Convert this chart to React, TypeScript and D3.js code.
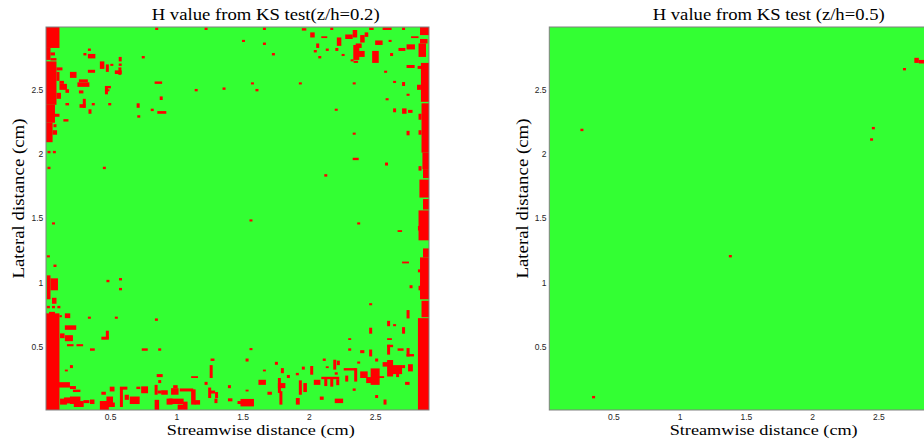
import React from 'react';
import * as d3 from 'd3';

// ---------- data ----------
const X_TICKS = [0.5, 1, 1.5, 2, 2.5];
const Y_TICKS = [0.5, 1, 1.5, 2, 2.5];
const X_EXTENT: [number, number] = [0.013, 2.903];
const Y_EXTENT: [number, number] = [0.01, 2.988];
const GRID_CELLS = 128;
const TITLES = ['H value from KS test(z/h=0.2)', 'H value from KS test (z/h=0.5)'];
const X_LABEL = 'Streamwise distance (cm)';
const Y_LABEL = 'Lateral distance (cm)';

// red (H = 1) patches on the measurement grid: [col, row, cols, rows], row 0 = bottom
type Patch = [number, number, number, number];

const RED_Z02: Patch[] = [
  // left edge
  [0, 121, 4.5, 7], [0, 117, 1.5, 4], [1.5, 118.5, 1.5, 1], [1.5, 116.8, 2, 0.8],
  [0, 102, 3.5, 14.5], [3.5, 110, 1, 3], [3.5, 104, 1.5, 2], [3.5, 113.5, 2, 1],
  [4.5, 107, 2.5, 2], [4.5, 109, 1.5, 1], [0, 96, 3, 6], [3, 98, 1.5, 1],
  [0, 89.5, 2.2, 6.5], [2.2, 92, 1.5, 1.5], [2.5, 94.5, 1, 1],
  [0.5, 85.8, 1, 0.8], [2.3, 85.8, 1, 0.8], [0.5, 80.5, 1, 0.8],
  // upper left scatter
  [36.5, 127, 1, 0.8], [53, 127, 1, 0.8], [12.5, 118.5, 1, 0.8], [14, 120, 1, 0.8],
  [14, 117.5, 2.5, 1.5], [24.3, 116.5, 1, 1.5], [32, 117.5, 1, 0.8], [18, 114, 1.5, 2.5],
  [20, 113, 1, 2.5], [21.5, 115, 1, 0.7], [23, 112.3, 2.3, 1.2], [24.2, 112, 1, 2.5],
  [24.3, 115, 1, 0.8], [14, 112.7, 2.4, 1], [8, 111, 2.2, 2], [10.5, 108, 4, 1.5],
  [11, 109.5, 3, 1], [11, 105.8, 1.5, 1], [6.5, 106, 1.2, 1.2], [19.7, 105.5, 1, 2.7],
  [19.7, 107.5, 2, 0.8], [19.7, 106.5, 1.5, 0.7], [11.2, 101, 2, 1.2], [12.3, 101, 1, 3],
  [6.5, 101.8, 1.2, 0.8], [15.3, 101.8, 1, 0.8], [20.8, 101.8, 1, 0.8], [14.2, 99, 1, 1.5],
  [30.3, 101, 1, 1.5], [30.5, 97.7, 1, 0.8], [5.8, 96.4, 1.7, 0.8], [35, 99.9, 1, 0.8],
  [37.2, 99, 3, 0.9], [38, 103.6, 1, 1.2], [36.3, 109, 2.5, 0.8], [49.7, 106.5, 1, 0.8],
  [59, 107, 1, 0.8], [19, 80.5, 1, 0.8],
  // upper right scatter
  [72.5, 127, 1, 0.8], [85.5, 126.8, 1.5, 0.8], [88.3, 124.5, 1.5, 1.7], [92, 124.3, 2, 0.6],
  [95, 127, 1, 0.8], [97.2, 121.7, 1.5, 2.8], [96.7, 120, 1, 1], [100, 124, 2.5, 1.5],
  [102.5, 124.5, 1.5, 2.5], [105, 122.8, 1.5, 2.5], [106.5, 124.7, 1.2, 1.5], [108, 127, 1.5, 0.8],
  [110, 122, 2.5, 1.5], [112.5, 127, 3, 0.8], [114.5, 123, 1, 0.7], [119, 127, 1, 0.8],
  [122, 124.3, 2.5, 0.6], [120.5, 120.5, 2.8, 1.7], [117.8, 120, 2.3, 1], [115, 118.3, 1, 1],
  [109, 116, 2.2, 4], [102.7, 117, 2, 5], [104.5, 118, 2, 2], [103.5, 121, 2, 1.5],
  [102.8, 116, 1.5, 0.7], [101.8, 116.5, 1, 0.7], [98.8, 118.3, 1, 0.7], [90.3, 121, 1, 1.5],
  [91, 117.5, 1, 0.8], [93.5, 120, 1, 0.8], [89.5, 119.5, 1, 0.8], [65.5, 123, 1, 0.7],
  [72.5, 122, 1, 0.8], [75.5, 118.5, 1, 0.8], [68.5, 108.8, 1, 0.7], [70, 106.5, 1, 0.8],
  [84.5, 108.8, 1, 0.7], [102.5, 108.8, 1, 0.7], [113, 112.7, 1, 0.7], [116, 109.3, 1, 0.7],
  [119, 108.3, 1, 1.3], [120.5, 105, 1, 0.7], [113.5, 103.5, 1, 0.7], [120.5, 114.3, 2.7, 1],
  [96.5, 100, 1, 0.7], [116, 99.5, 1, 1.3], [119, 99, 1.5, 1.8], [121, 99.3, 1.5, 1],
  [120.5, 91.8, 1, 1.5], [102.5, 92, 1, 0.7], [102.5, 83.5, 2, 0.8], [113.3, 81.7, 1, 1],
  [93, 78, 1, 0.8],
  // right edge
  [125, 125.3, 3, 2.7], [125, 122.5, 2.5, 1.5], [124.5, 118, 2.5, 4.5], [125.3, 103, 2.7, 13],
  [124.2, 114, 1.5, 1], [124, 107, 1.3, 1.7], [125.5, 86, 2.5, 16.5], [124.5, 97, 1, 2],
  [124.5, 92, 1, 1.5], [125.8, 80.5, 2.2, 5.5], [124.8, 71, 3.2, 6], [126, 77.5, 2, 3],
  [126, 67, 2, 3.5], [124.5, 56.7, 3.5, 10], [126, 51, 2, 3], [125, 37, 3, 14],
  [125.5, 31, 2.5, 5.5], [124.3, 0, 3.7, 30.7], [124.5, 80, 1, 1.5], [124.3, 60, 1, 1.5],
  [124.3, 46, 1, 1], [124.5, 40, 1, 1.5],
  // lower left
  [2, 62, 1, 0.7], [0.3, 51, 1, 0.7], [2.5, 47.8, 1, 0.8], [0.3, 37, 1.2, 8],
  [1.5, 40, 2.5, 4], [2, 35.5, 1.5, 2], [0.3, 34, 1, 0.8], [2, 34, 1, 0.8],
  [3.8, 34, 1, 0.8], [0, 0, 4.5, 32.3], [1, 32, 2, 0.8], [4.5, 31, 0.8, 0.7],
  [6.3, 30.7, 1.8, 1.6], [6.3, 26.8, 3.8, 1.5], [4.7, 24, 1.5, 1.6], [6.3, 23, 2.7, 2],
  [7, 21.3, 2.2, 0.7], [10.2, 21.3, 2.2, 0.7], [14, 30.5, 1, 0.7], [23, 30.5, 1, 0.7],
  [36.4, 29.8, 1, 0.8], [18.5, 23.5, 2.5, 1], [20, 24, 1, 2.5], [14.7, 19.8, 1.6, 0.8],
  [32, 19.8, 2, 0.8], [37.5, 19.8, 1, 0.8], [8, 14, 1, 1], [6.3, 12.9, 1, 0.6],
  [54.7, 10.7, 1, 4.3], [55, 16.4, 1.3, 0.8], [48.5, 10.7, 2.3, 0.6], [37, 11, 2, 1],
  [37.5, 9, 1, 1], [4, 7.5, 4, 1.8], [8, 7, 2, 1], [9, 6, 2.5, 0.8],
  [4.7, 1.8, 2.3, 2], [6, 2.2, 3.5, 2], [8, 2, 3.5, 2.5], [9.3, 1, 3.3, 2],
  [12.5, 2.3, 2, 1], [14.7, 2, 1.5, 1.5], [18.5, 5.1, 1.5, 1], [18, 0, 3, 3],
  [20.2, 1, 2.2, 3.5], [21, 1, 2, 1.5], [21.3, 6.2, 1.6, 1.6], [24.7, 1, 1, 6.6],
  [24.7, 6.8, 2.5, 1], [26.3, 3.4, 1.4, 1.7], [28, 2, 3.3, 2.5], [30.2, 7, 1.3, 0.8],
  [31.8, 5.6, 2.3, 2.3], [36.3, 5.1, 1, 3.3], [37.3, 5.5, 1.3, 1], [38.5, 5.1, 2.2, 1.5],
  [36.3, 0, 1.5, 3.4], [40.3, 1.8, 2, 2], [41, 2, 5, 1.8], [44, 0, 2, 1.8],
  [41.8, 5.1, 2.5, 2.2], [42.5, 7.3, 1.5, 1], [44.7, 6.2, 4.5, 1], [48.5, 1.8, 1.5, 5.1],
  [49.7, 1.8, 1.8, 1.5], [45.8, 0, 1.5, 2.8], [53, 8.4, 1, 1], [54.2, 4, 1, 3.5],
  [55, 5.5, 1.5, 1], [56.5, 4, 1, 2], [56.3, 2.3, 1, 1.5], [60.8, 7.3, 1, 1],
  [60.8, 2.9, 1.5, 1], [20.2, 42.7, 1, 0.8], [24.4, 43.3, 1, 0.8], [24.4, 40, 1, 0.8],
  // lower right
  [68, 63, 1, 0.7], [104, 62, 1, 0.7], [117.5, 59.5, 1.5, 0.6], [119, 49, 2.3, 0.6],
  [121.5, 40.7, 1, 1], [108, 35, 1, 0.7], [120.5, 30.6, 1, 2.8], [114, 28, 1, 1.8],
  [116, 28, 1, 0.7], [119, 25.5, 1, 2.2], [108, 25.5, 1, 2], [114, 23.4, 1.6, 0.6],
  [101, 23.4, 1, 0.6], [114, 18.5, 1, 3.3], [114, 21, 2, 0.8], [117.5, 19.8, 2, 0.8],
  [120.5, 17.9, 1, 2.8], [120.5, 17.9, 2.5, 0.8], [108, 17.9, 1, 2.3], [105, 19, 1.4, 1],
  [101, 19.8, 1, 0.8], [110, 16.2, 1, 1], [104, 15.5, 1, 0.7], [112.5, 14.5, 2.2, 1.5],
  [114, 11.2, 2, 5.5], [115.5, 12, 3.5, 3], [117, 11, 1, 2], [119, 14, 1, 1],
  [121, 12.9, 1.6, 2.4], [108.5, 8.4, 3, 5.5], [107, 9, 2, 2], [105, 10.7, 2.5, 2.2],
  [111, 10.7, 2, 0.6], [99.5, 13.2, 4, 0.8], [103, 9.5, 1, 4.5], [100, 9.5, 1, 2],
  [96.5, 11.8, 1, 0.8], [92, 10.3, 6, 0.8], [93, 8, 1, 2.5], [95, 7.8, 1, 2.8],
  [97, 8.3, 1, 2], [89.5, 8.4, 2.2, 1.7], [88.3, 11.8, 1, 2.9], [92.5, 16.4, 1, 0.8],
  [93.5, 14, 1, 0.6], [96, 13.5, 1, 3.3], [97.2, 15, 1, 1.5], [84.5, 5.1, 1, 4.8],
  [86, 6, 1.2, 3], [83.5, 11.6, 1, 0.8], [85.5, 13.5, 1, 1], [78.5, 12.3, 1, 1.7],
  [77.5, 5.7, 1, 5], [77.5, 7.3, 2.5, 1.7], [78, 1.8, 1, 4.5], [80.5, 10.7, 1, 1],
  [83.5, 1.8, 1.3, 2.2], [76.5, 15.1, 1, 1], [72.5, 12.9, 1, 0.6], [71, 8.4, 2.5, 1.7],
  [66.7, 16.2, 1, 1], [68, 20, 1, 0.7], [66.7, 6.2, 1, 0.6], [65, 1.2, 4.5, 2.5],
  [64, 2, 1.5, 1], [74, 5.1, 1.5, 1], [91.5, 3.4, 1.3, 1.1], [96.5, 2.3, 2.8, 1.5],
  [102.5, 6.4, 1, 0.8], [110, 4, 1, 1], [112.8, 1.8, 1, 1.7], [120, 8.4, 1.5, 1],
];

const RED_Z05: Patch[] = [
  [122, 116, 1.5, 1.7], [123.5, 115.8, 2.5, 1.2], [118.2, 113.5, 1, 0.8],
  [10.4, 93.2, 1, 0.8], [107.8, 93.8, 1, 0.8], [107.2, 90, 1, 0.8],
  [60, 51, 1, 0.8], [14.3, 3.9, 1, 0.8],
];

// ---------- layout ----------
const W = 924;
const H = 445;
const PLOT = 383;
const GREEN = '#33ff33';
const RED = '#ff0000';
const SERIF = '"Liberation Serif", "DejaVu Serif", serif';
const SANS = '"Liberation Sans", Arial, sans-serif';

const PANELS = [
  { left: 46, top: 27, title: TITLES[0], red: RED_Z02, titleX: 265.7, titleLen: 228, labelX: 260.8, yLabelX: 24 },
  { left: 549.3, top: 27, title: TITLES[1], red: RED_Z05, titleX: 768.7, titleLen: 232, labelX: 763.7, yLabelX: 528 },
];

type PanelProps = (typeof PANELS)[number];

function Panel({ left, top, title, red, titleX, titleLen, labelX, yLabelX }: PanelProps) {
  const x = d3.scaleLinear().domain(X_EXTENT).range([left, left + PLOT]);
  const y = d3.scaleLinear().domain(Y_EXTENT).range([top + PLOT, top]);
  const cw = (X_EXTENT[1] - X_EXTENT[0]) / GRID_CELLS;
  const ch = (Y_EXTENT[1] - Y_EXTENT[0]) / GRID_CELLS;
  const cx = (c: number) => X_EXTENT[0] + c * cw;
  const cy = (r: number) => Y_EXTENT[0] + r * ch;
  const yLabelY = (y(Y_EXTENT[0]) + y(Y_EXTENT[1])) / 2 - 20;

  return (
    <g>
      <rect
        x={x(X_EXTENT[0])}
        y={y(Y_EXTENT[1])}
        width={x(X_EXTENT[1]) - x(X_EXTENT[0])}
        height={y(Y_EXTENT[0]) - y(Y_EXTENT[1])}
        fill={GREEN}
      />
      {red.map(([c, r, w, h], i) => (
        <rect
          key={i}
          x={x(cx(c))}
          y={y(cy(r + h))}
          width={x(cx(c + w)) - x(cx(c))}
          height={y(cy(r)) - y(cy(r + h))}
          fill={RED}
        />
      ))}
      <rect
        x={x(X_EXTENT[0])}
        y={y(Y_EXTENT[1])}
        width={x(X_EXTENT[1]) - x(X_EXTENT[0])}
        height={y(Y_EXTENT[0]) - y(Y_EXTENT[1])}
        fill="none"
        stroke="#808080"
        strokeWidth={1}
      />
      {X_TICKS.map((t) => (
        <text key={'x' + t} x={x(t)} y={419.5} textAnchor="middle" fontFamily={SANS} fontSize={8.5} fill="#262626">
          {String(t)}
        </text>
      ))}
      {Y_TICKS.map((t) => (
        <text key={'y' + t} x={left - 2.7} y={y(t) + 3} textAnchor="end" fontFamily={SANS} fontSize={8.5} fill="#262626">
          {String(t)}
        </text>
      ))}
      <text x={titleX} y={20} textAnchor="middle" fontFamily={SERIF} fontSize={17} textLength={titleLen} lengthAdjust="spacingAndGlyphs" fill="#000">
        {title}
      </text>
      <text x={labelX} y={434.5} textAnchor="middle" fontFamily={SERIF} fontSize={15.5} textLength={188} lengthAdjust="spacingAndGlyphs" fill="#000">
        {X_LABEL}
      </text>
      <text
        transform={`translate(${yLabelX},${yLabelY}) rotate(-90)`}
        x={0}
        y={0}
        textAnchor="middle"
        fontFamily={SERIF}
        fontSize={16.5}
        textLength={160}
        lengthAdjust="spacingAndGlyphs"
        fill="#000"
      >
        {Y_LABEL}
      </text>
    </g>
  );
}

export default function App() {
  return (
    <svg width={W} height={H} style={{ position: 'absolute', left: 0, top: 0, background: '#fff' }}>
      <rect x={0} y={0} width={W} height={H} fill="#fff" />
      {PANELS.map((p, i) => (
        <Panel key={i} {...p} />
      ))}
    </svg>
  );
}
